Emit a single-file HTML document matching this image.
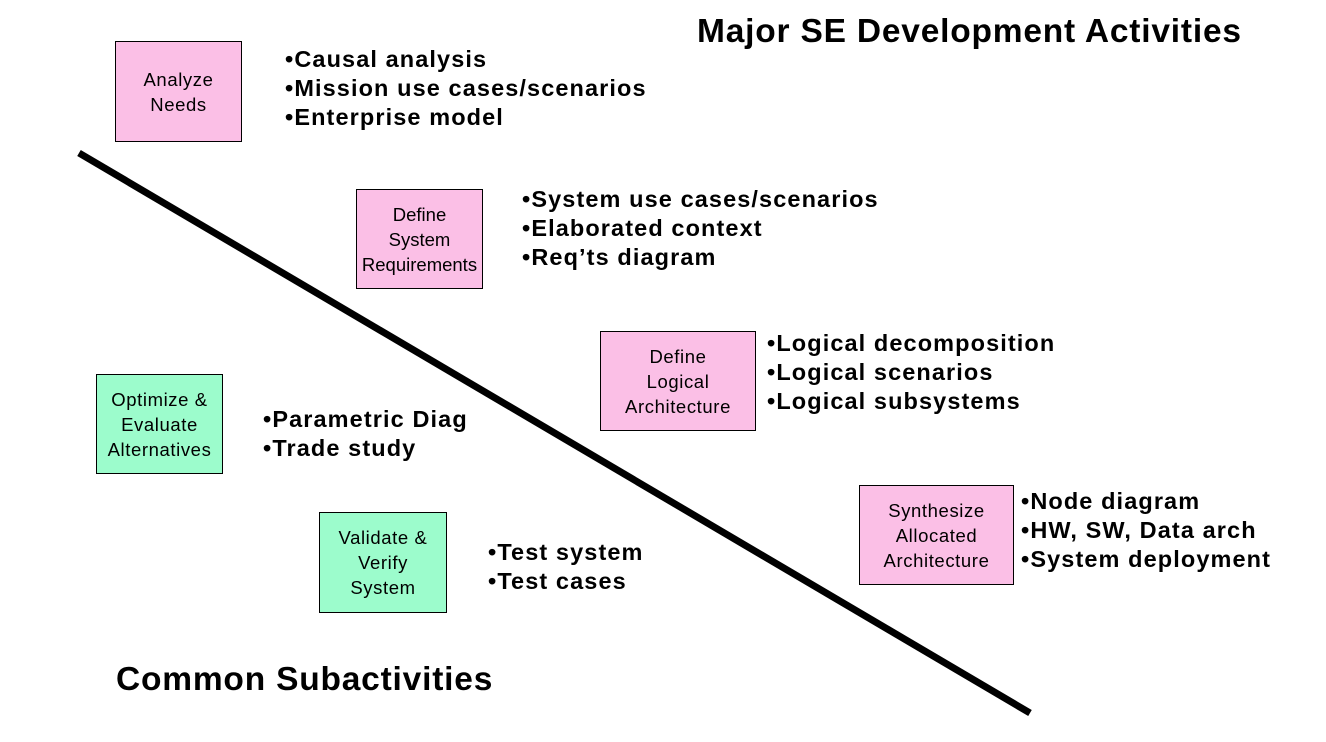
<!DOCTYPE html>
<html><head><style>
body{margin:0;width:1326px;height:742px;background:#fff;position:relative;overflow:hidden;font-family:"Liberation Sans",Arial,sans-serif}
.b{position:absolute;border:1px solid #000;display:flex;align-items:center;justify-content:center;text-align:center;font-size:18.5px;line-height:25px;color:#000;box-sizing:border-box;letter-spacing:0.6px}
.p{background:#fbbfe6}.g{background:#9cfccc}
.l{position:absolute;font-weight:bold;font-size:23.5px;line-height:29px;white-space:nowrap;letter-spacing:1.1px}
.t{position:absolute;font-weight:bold;white-space:nowrap;letter-spacing:0.8px;font-size:33.5px}
</style></head><body>
<svg width="1326" height="742" style="position:absolute;left:0;top:0"><line x1="79" y1="153" x2="1030" y2="713" stroke="#000" stroke-width="7"/></svg>
<div class="t" style="left:697px;top:13px">Major SE Development Activities</div>
<div class="t" style="left:116px;top:661px">Common Subactivities</div>
<div class="b p" style="left:115px;top:41px;width:127px;height:101px">Analyze<br>Needs</div>
<div class="l" style="left:285px;top:45px">•Causal analysis<br>•Mission use cases/scenarios<br>•Enterprise model</div>
<div class="b p" style="left:356px;top:189px;width:127px;height:100px;letter-spacing:0px">Define<br>System<br>Requirements</div>
<div class="l" style="left:522px;top:185px">•System use cases/scenarios<br>•Elaborated context<br>•Req’ts diagram</div>
<div class="b p" style="left:600px;top:331px;width:156px;height:100px">Define<br>Logical<br>Architecture</div>
<div class="l" style="left:767px;top:329px">•Logical decomposition<br>•Logical scenarios<br>•Logical subsystems</div>
<div class="b g" style="left:96px;top:374px;width:127px;height:100px">Optimize &amp;<br>Evaluate<br>Alternatives</div>
<div class="l" style="left:263px;top:405px">•Parametric Diag<br>•Trade study</div>
<div class="b g" style="left:319px;top:512px;width:128px;height:101px">Validate &amp;<br>Verify<br>System</div>
<div class="l" style="left:488px;top:538px">•Test system<br>•Test cases</div>
<div class="b p" style="left:859px;top:485px;width:155px;height:100px">Synthesize<br>Allocated<br>Architecture</div>
<div class="l" style="left:1021px;top:487px">•Node diagram<br>•HW, SW, Data arch<br>•System deployment</div>
</body></html>
